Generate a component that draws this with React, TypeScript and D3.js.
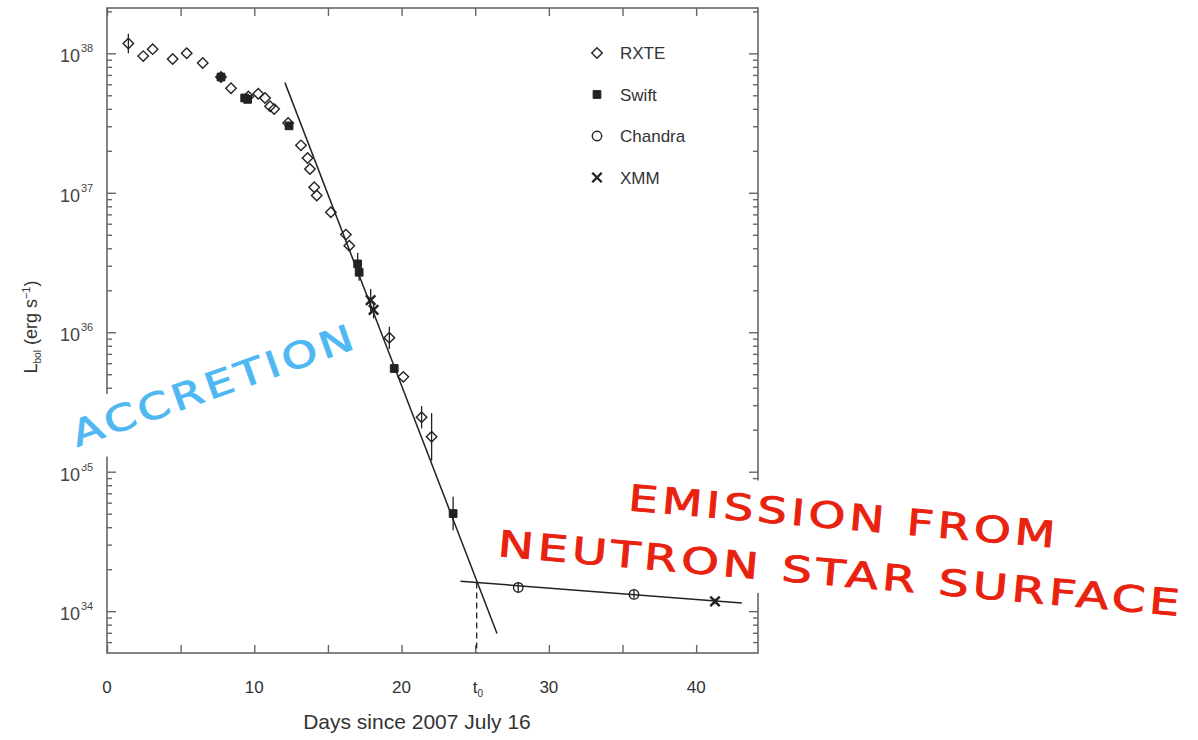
import { useEffect, useRef } from 'react';
import * as d3 from 'd3';

// days since 2007 July 16, log10 luminosity, error (dex)
const rxteDays = [1.45, 2.46, 3.1, 4.46, 5.41, 6.5, 7.74, 8.42, 9.6, 10.27, 10.73, 11.07, 11.35, 12.3, 13.17, 13.62, 13.78, 14.07, 14.24, 15.2, 16.22, 16.45, 19.17, 20.12, 21.36, 22.04];
const rxteLogL = [38.07, 37.98, 38.03, 37.96, 38.0, 37.93, 37.83, 37.75, 37.69, 37.71, 37.68, 37.62, 37.6, 37.5, 37.34, 37.25, 37.17, 37.04, 36.98, 36.86, 36.7, 36.62, 35.96, 35.68, 35.39, 35.25];
const rxteErr = [0.07, 0, 0, 0, 0, 0, 0, 0, 0, 0, 0, 0, 0, 0, 0, 0, 0, 0, 0, 0, 0, 0, 0.08, 0, 0.08, 0.17];

const swiftDays = [7.74, 9.35, 9.55, 12.36, 17.02, 17.12, 19.5, 23.5];
const swiftLogL = [37.83, 37.68, 37.67, 37.48, 36.49, 36.43, 35.74, 34.7];
const swiftErr = [0, 0, 0, 0, 0.08, 0.06, 0, 0.12];

const chandraDays = [27.92, 35.78];
const chandraLogL = [34.17, 34.12];
const chandraErr = [0.04, 0.03];

const xmmDays = [17.9, 18.1, 41.28];
const xmmLogL = [36.23, 36.16, 34.07];
const xmmErr = [0.08, 0.06, 0.02];

const steepFitDays = [12.08, 26.48];
const steepFitLogL = [37.79, 33.84];
const flatFitDays = [24.0, 43.1];
const flatFitLogL = [34.214, 34.059];
const t0Day = 25.1;

const xTickValues = [0, 5, 10, 15, 20, 25, 30, 35, 40];
const xTickLabels = ['0', '10', '20', '30', '40'];
const yExponents = [34, 35, 36, 37, 38];

const legendNames = ['RXTE', 'Swift', 'Chandra', 'XMM'];

export default function App() {
  const svgRef = useRef<SVGSVGElement>(null);

  useEffect(() => {
    if (!svgRef.current) return;
    const svg = d3.select(svgRef.current);
    svg.selectAll('*').remove();

    const left = 107, right = 758, top = 8, bottom = 653;
    const x = d3.scaleLinear().domain([0, 44.2]).range([left, right]);
    const y = d3.scaleLog().domain([10 ** 33.7, 10 ** 38.325]).range([bottom, top]);
    const ink = '#222';
    const axisColor = '#666';
    const font = '"Liberation Sans", Arial, sans-serif';
    const bigFont = '"DejaVu Sans", sans-serif';

    // ticks
    const minors: number[] = [];
    for (let n = 33; n <= 38; n++) {
      for (let k = 2; k <= 9; k++) {
        const v = k * 10 ** n;
        if (v > 10 ** 33.7 && v < 10 ** 38.325) minors.push(v);
      }
    }
    const majors = yExponents.map((e) => 10 ** e);

    const styleAxis = (g: d3.Selection<SVGGElement, unknown, null, undefined>) => {
      g.select('.domain').remove();
      g.selectAll('.tick line').attr('stroke', axisColor).attr('stroke-width', 1.4);
      g.selectAll('.tick text').remove();
    };

    svg.append('g').attr('transform', `translate(0,${bottom})`)
      .call(d3.axisBottom(x).tickValues(xTickValues).tickSize(-8)).call(styleAxis);
    svg.append('g').attr('transform', `translate(0,${top})`)
      .call(d3.axisTop(x).tickValues(xTickValues).tickSize(-8)).call(styleAxis);
    svg.append('g').attr('transform', `translate(${left},0)`)
      .call(d3.axisLeft(y).tickValues(majors).tickSize(-9)).call(styleAxis);
    svg.append('g').attr('transform', `translate(${left},0)`)
      .call(d3.axisLeft(y).tickValues(minors).tickSize(-5)).call(styleAxis);
    svg.append('g').attr('transform', `translate(${right},0)`)
      .call(d3.axisRight(y).tickValues(majors).tickSize(-9)).call(styleAxis);
    svg.append('g').attr('transform', `translate(${right},0)`)
      .call(d3.axisRight(y).tickValues(minors).tickSize(-5)).call(styleAxis);

    svg.append('rect').attr('x', left).attr('y', top).attr('width', right - left).attr('height', bottom - top)
      .attr('fill', 'none').attr('stroke', axisColor).attr('stroke-width', 1.6);

    // tick labels
    svg.append('g').selectAll('text').data(xTickLabels).join('text')
      .attr('x', (d) => x(+d)).attr('y', 693).attr('text-anchor', 'middle')
      .attr('font-family', font).attr('font-size', 17).attr('fill', '#333').text((d) => d);
    const t0Label = svg.append('text').attr('x', x(t0Day) - 4).attr('y', 693)
      .attr('font-family', font).attr('font-size', 17).attr('fill', '#333');
    t0Label.append('tspan').text('t');
    t0Label.append('tspan').attr('dy', 4).attr('font-size', 10).text('0');

    svg.append('g').selectAll('text').data(yExponents).join('text')
      .attr('x', 80).attr('y', (d) => y(10 ** d) + 9).attr('text-anchor', 'end')
      .attr('font-family', font).attr('font-size', 18).attr('fill', '#444').text('10');
    svg.append('g').selectAll('text').data(yExponents).join('text')
      .attr('x', 81).attr('y', (d) => y(10 ** d) - 1)
      .attr('font-family', font).attr('font-size', 11).attr('fill', '#444').text((d) => String(d));

    // axis titles
    svg.append('text').attr('x', 417).attr('y', 729).attr('text-anchor', 'middle')
      .attr('font-family', font).attr('font-size', 21).attr('fill', '#333')
      .text('Days since 2007 July 16');
    const yt = svg.append('text').attr('transform', 'translate(37,327) rotate(-90)').attr('text-anchor', 'middle')
      .attr('font-family', font).attr('font-size', 18).attr('fill', '#333');
    yt.append('tspan').text('L');
    yt.append('tspan').attr('dy', 4).attr('font-size', 10).text('bol');
    yt.append('tspan').attr('dy', -4).text(' (erg s');
    yt.append('tspan').attr('dy', -7).attr('font-size', 11).text('−1');
    yt.append('tspan').attr('dy', 7).text(')');

    // fit lines
    const fitLine = (days: number[], logs: number[]) =>
      d3.line<number>().x((d) => x(d)).y((_, i) => y(10 ** logs[i]))(days);
    svg.append('path').attr('d', fitLine(steepFitDays, steepFitLogL)!)
      .attr('fill', 'none').attr('stroke', ink).attr('stroke-width', 1.5);
    svg.append('path').attr('d', fitLine(flatFitDays, flatFitLogL)!)
      .attr('fill', 'none').attr('stroke', ink).attr('stroke-width', 1.5);
    const flatAtT0 = flatFitLogL[0] + (flatFitLogL[1] - flatFitLogL[0]) * (t0Day - flatFitDays[0]) / (flatFitDays[1] - flatFitDays[0]);
    svg.append('line').attr('x1', x(t0Day)).attr('x2', x(t0Day))
      .attr('y1', y(10 ** flatAtT0)).attr('y2', bottom)
      .attr('stroke', ink).attr('stroke-width', 1.3).attr('stroke-dasharray', '6,4');

    // error bars
    const errBars = (days: number[], logs: number[], errs: number[]) => {
      const idx = days.map((_, i) => i).filter((i) => errs[i] > 0);
      svg.append('g').selectAll('line').data(idx).join('line')
        .attr('x1', (i) => x(days[i])).attr('x2', (i) => x(days[i]))
        .attr('y1', (i) => y(10 ** (logs[i] - errs[i]))).attr('y2', (i) => y(10 ** (logs[i] + errs[i])))
        .attr('stroke', ink).attr('stroke-width', 1.3);
    };
    errBars(rxteDays, rxteLogL, rxteErr);
    errBars(swiftDays, swiftLogL, swiftErr);
    errBars(chandraDays, chandraLogL, chandraErr);
    errBars(xmmDays, xmmLogL, xmmErr);

    const diamond = d3.symbol().type(d3.symbolDiamond2).size(70)()!;
    const square = d3.symbol().type(d3.symbolSquare).size(60)()!;
    const circle = d3.symbol().type(d3.symbolCircle).size(70)()!;
    const cross = d3.symbol().type(d3.symbolX).size(60)()!;

    const pts = (days: number[], logs: number[], path: string, fill: string, sw: number) =>
      svg.append('g').selectAll('path').data(days).join('path')
        .attr('transform', (d, i) => `translate(${x(d)},${y(10 ** logs[i])})`)
        .attr('d', path).attr('fill', fill).attr('stroke', ink).attr('stroke-width', sw);
    pts(rxteDays, rxteLogL, diamond, 'none', 1.4);
    pts(swiftDays, swiftLogL, square, ink, 1);
    pts(chandraDays, chandraLogL, circle, 'none', 1.4);
    pts(xmmDays, xmmLogL, cross, 'none', 2.4);

    // legend
    const legendShapes = [diamond, square, circle, cross];
    const legendFill = ['none', ink, 'none', 'none'];
    const legendSw = [1.4, 1, 1.4, 2.4];
    const lg = svg.append('g');
    lg.selectAll('path').data(legendNames).join('path')
      .attr('transform', (_, i) => `translate(597,${53 + i * 41.5})`)
      .attr('d', (_, i) => legendShapes[i]).attr('fill', (_, i) => legendFill[i])
      .attr('stroke', ink).attr('stroke-width', (_, i) => legendSw[i]);
    lg.selectAll('text').data(legendNames).join('text')
      .attr('x', 620).attr('y', (_, i) => 59 + i * 41.5)
      .attr('font-family', font).attr('font-size', 17).attr('fill', '#333').text((d) => d);

    // annotations with white backing
    const acc = svg.append('g').attr('transform', 'translate(77,447) rotate(-19.5)');
    acc.append('rect').attr('x', -12).attr('y', -40).attr('width', 330).attr('height', 59).attr('fill', '#fff');
    acc.append('text').attr('x', 0).attr('y', 0).attr('font-family', bigFont)
      .attr('font-size', 36).attr('fill', '#4fb8f2').attr('stroke', '#4fb8f2').attr('stroke-width', 0.9)
      .attr('letter-spacing', 3)
      .attr('textLength', 300).attr('lengthAdjust', 'spacingAndGlyphs')
      .text('ACCRETION');

    const emi = svg.append('g').attr('transform', 'translate(497,556) rotate(5)');
    emi.append('rect').attr('x', -10).attr('y', -98).attr('width', 712).attr('height', 112).attr('fill', '#fff');
    emi.append('text').attr('x', 126).attr('y', -57).attr('font-family', bigFont)
      .attr('font-size', 36).attr('fill', '#e8220e').attr('stroke', '#e8220e').attr('stroke-width', 0.9)
      .attr('letter-spacing', 3)
      .attr('textLength', 432).attr('lengthAdjust', 'spacingAndGlyphs')
      .text('EMISSION FROM');
    emi.append('text').attr('x', 0).attr('y', 0).attr('font-family', bigFont)
      .attr('font-size', 36).attr('fill', '#e8220e').attr('stroke', '#e8220e').attr('stroke-width', 0.9)
      .attr('letter-spacing', 3)
      .attr('textLength', 688).attr('lengthAdjust', 'spacingAndGlyphs')
      .text('NEUTRON STAR SURFACE');
  }, []);

  return (
    <div style={{ position: 'absolute', left: 0, top: 0 }}>
      <svg ref={svgRef} width={1198} height={740} style={{ display: 'block', background: '#fff' }} />
    </div>
  );
}
